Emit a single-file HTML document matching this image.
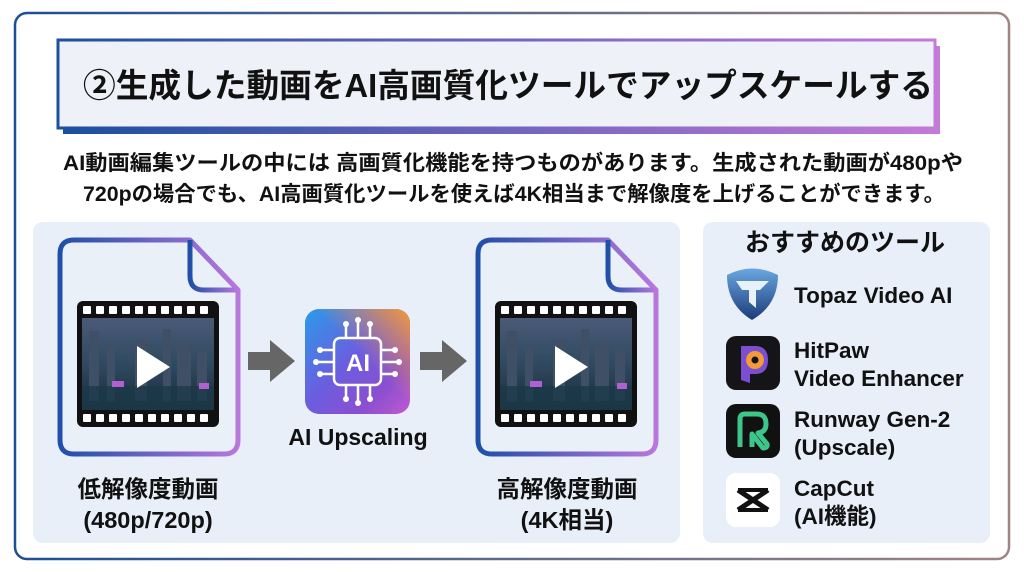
<!DOCTYPE html>
<html><head><meta charset="utf-8"><style>
html,body{margin:0;padding:0;width:1024px;height:572px;background:#fff;overflow:hidden}
svg{display:block}
text{font-family:"Liberation Sans","Noto Sans CJK JP",sans-serif;font-weight:bold;fill:#111}
</style></head><body>
<svg width="1024" height="572" viewBox="0 0 1024 572" xmlns="http://www.w3.org/2000/svg">
<defs>
<linearGradient id="ob" x1="0" x2="1"><stop offset="0" stop-color="#1d4f93"/><stop offset="1" stop-color="#a08484"/></linearGradient>
<linearGradient id="tb" x1="0" x2="1"><stop offset="0" stop-color="#1b4fa0"/><stop offset="1" stop-color="#c47ad8"/></linearGradient>
<linearGradient id="fg" x1="0" y1="0" x2="1" y2="0"><stop offset="0" stop-color="#1f4fa8"/><stop offset="1" stop-color="#b877dd"/></linearGradient>
<linearGradient id="sky" x1="0" y1="0" x2="0" y2="1"><stop offset="0" stop-color="#4a5a78"/><stop offset="0.5" stop-color="#2f4a60"/><stop offset="1" stop-color="#1b2a3a"/></linearGradient>
<linearGradient id="ai" x1="0" y1="0" x2="1" y2="1"><stop offset="0" stop-color="#2a9be8"/><stop offset="0.45" stop-color="#6a5ee0"/><stop offset="0.75" stop-color="#8a4fd0"/><stop offset="1" stop-color="#c05ad0"/></linearGradient>
<linearGradient id="aio" x1="0" y1="1" x2="1" y2="0"><stop offset="0.55" stop-color="#f39a3a" stop-opacity="0"/><stop offset="1" stop-color="#f39a3a"/></linearGradient>
<linearGradient id="tp" x1="0" y1="0" x2="0" y2="1"><stop offset="0" stop-color="#6aa7e0"/><stop offset="1" stop-color="#1b3c78"/></linearGradient>
<g id="film">
<rect x="0" y="0" width="142" height="126" rx="6" fill="#111"/>
<rect x="5" y="17" width="132" height="92" fill="url(#sky)"/>
<g fill="#3e4f66"><rect x="12" y="30" width="10" height="70"/><rect x="30" y="45" width="8" height="55"/><rect x="58" y="38" width="12" height="62"/><rect x="86" y="28" width="8" height="72"/><rect x="100" y="40" width="14" height="60"/><rect x="120" y="50" width="10" height="50"/></g>
<rect x="5" y="85" width="132" height="24" fill="#1c3a48" opacity=".8"/>
<rect x="35" y="80" width="12" height="6" fill="#b060d0"/><rect x="122" y="82" width="10" height="6" fill="#b060d0"/>
<g fill="#fff"><rect x="6" y="5" width="8" height="8" rx="1"/><rect x="19" y="5" width="8" height="8" rx="1"/><rect x="32" y="5" width="8" height="8" rx="1"/><rect x="45" y="5" width="8" height="8" rx="1"/><rect x="58" y="5" width="8" height="8" rx="1"/><rect x="71" y="5" width="8" height="8" rx="1"/><rect x="84" y="5" width="8" height="8" rx="1"/><rect x="97" y="5" width="8" height="8" rx="1"/><rect x="110" y="5" width="8" height="8" rx="1"/><rect x="123" y="5" width="8" height="8" rx="1"/>
<rect x="6" y="113" width="8" height="8" rx="1"/><rect x="19" y="113" width="8" height="8" rx="1"/><rect x="32" y="113" width="8" height="8" rx="1"/><rect x="45" y="113" width="8" height="8" rx="1"/><rect x="58" y="113" width="8" height="8" rx="1"/><rect x="71" y="113" width="8" height="8" rx="1"/><rect x="84" y="113" width="8" height="8" rx="1"/><rect x="97" y="113" width="8" height="8" rx="1"/><rect x="110" y="113" width="8" height="8" rx="1"/><rect x="123" y="113" width="8" height="8" rx="1"/></g>
<path d="M60 45 L93 66 L60 87 Z" fill="#fff"/>
</g>
<g id="file">
<path d="M14 0 H130 L178 50 V200 Q178 214 164 214 H14 Q0 214 0 200 V14 Q0 0 14 0 Z" fill="#eaf0f8" stroke="url(#fg)" stroke-width="5" stroke-linejoin="round"/>
<path d="M130 0 V36 Q130 50 144 50 H178" fill="none" stroke="url(#fg)" stroke-width="5" stroke-linejoin="round"/>
</g>
</defs>
<rect x="15" y="13" width="994" height="546" rx="12" fill="#fff" stroke="url(#ob)" stroke-width="2.5"/>
<!-- title -->
<rect x="63" y="46" width="877" height="88" fill="url(#tb)"/>
<rect x="58" y="40" width="877" height="88" fill="#eef1f7" stroke="url(#tb)" stroke-width="3"/>
<text x="83" y="97" font-size="33" textLength="850" lengthAdjust="spacingAndGlyphs">②生成した動画をAI高画質化ツールでアップスケールする</text>
<text x="63" y="170" font-size="21" textLength="900" lengthAdjust="spacingAndGlyphs">AI動画編集ツールの中には 高画質化機能を持つものがあります。生成された動画が480pや</text>
<text x="83" y="201" font-size="21" textLength="862" lengthAdjust="spacingAndGlyphs">720pの場合でも、AI高画質化ツールを使えば4K相当まで解像度を上げることができます。</text>
<!-- panels -->
<rect x="33" y="222" width="647" height="321" rx="10" fill="#e8eff8"/>
<rect x="703" y="222" width="287" height="321" rx="10" fill="#e8eff8"/>
<use href="#file" x="60" y="240"/>
<use href="#film" x="77" y="301"/>
<use href="#file" x="478" y="240"/>
<use href="#film" x="495" y="301"/>
<!-- arrows -->
<path d="M248 352 H270 V340 L295 361 L270 382 V370 H248 Z" fill="#666"/>
<path d="M420 352 H442 V340 L467 361 L442 382 V370 H420 Z" fill="#666"/>
<!-- AI icon -->
<rect x="305" y="309" width="105" height="105" rx="14" fill="url(#ai)"/>
<rect x="305" y="309" width="105" height="105" rx="14" fill="url(#aio)"/>
<g stroke="#fff" stroke-width="2.5" fill="none">
<rect x="334" y="338" width="47" height="47" rx="6"/>
<path d="M346 338 V326 M358 338 V322 M370 338 V326 M346 385 V397 M358 385 V401 M370 385 V397 M334 350 H322 M334 362 H318 M334 374 H322 M381 350 H393 M381 362 H397 M381 374 H393"/>
</g>
<g fill="#fff"><circle cx="346" cy="324" r="3"/><circle cx="358" cy="320" r="3"/><circle cx="370" cy="324" r="3"/><circle cx="346" cy="399" r="3"/><circle cx="358" cy="403" r="3"/><circle cx="370" cy="399" r="3"/><circle cx="320" cy="350" r="3"/><circle cx="316" cy="362" r="3"/><circle cx="320" cy="374" r="3"/><circle cx="395" cy="350" r="3"/><circle cx="399" cy="362" r="3"/><circle cx="395" cy="374" r="3"/></g>
<text x="358" y="371" font-size="24" text-anchor="middle" style="fill:#fff">AI</text>
<text x="358" y="445" font-size="23" text-anchor="middle">AI Upscaling</text>
<text x="148" y="497" font-size="23.5" text-anchor="middle">低解像度動画</text>
<text x="148" y="528" font-size="23.5" text-anchor="middle">(480p/720p)</text>
<text x="567" y="497" font-size="23.5" text-anchor="middle">高解像度動画</text>
<text x="567" y="528" font-size="23.5" text-anchor="middle">(4K相当)</text>
<!-- tools -->
<text x="845" y="251" font-size="25" text-anchor="middle">おすすめのツール</text>
<path d="M727 275 Q752 262 778 275 Q778 305 752 320 Q727 305 727 275 Z" fill="url(#tp)"/>
<path d="M736 281 H769 L760 290 H756 V308 L749 302 V290 H742 Z" fill="#e8f0fa"/>
<text x="794" y="303" font-size="22.5">Topaz Video AI</text>
<rect x="726" y="336" width="54" height="54" rx="10" fill="#151519"/>
<path d="M741 346 H755 Q768 346 768 360 Q768 374 755 374 H750 V383 L741 380 Z" fill="#7a4fd0"/>
<circle cx="755" cy="360" r="9" fill="#f39a3a"/>
<circle cx="755" cy="360" r="3.5" fill="#151519"/>
<text x="794" y="358" font-size="22.5">HitPaw</text>
<text x="794" y="386" font-size="22.5">Video Enhancer</text>
<rect x="726" y="404" width="54" height="54" rx="10" fill="#111"/>
<path d="M740 447 V419 Q740 414 745 414 H757 Q766 414 766 424 Q766 432 758 433 L767 444 Q768 448 763 448 L752 434 V447" fill="none" stroke="#3ec58a" stroke-width="5" stroke-linejoin="round"/>
<text x="794" y="427" font-size="22.5">Runway Gen-2</text>
<text x="794" y="455" font-size="22.5">(Upscale)</text>
<rect x="726" y="473" width="54" height="54" rx="10" fill="#fff"/>
<path d="M738 490 L768 510 M768 490 L738 510" stroke="#111" stroke-width="5"/>
<path d="M738 490 H768 M738 510 H768" stroke="#111" stroke-width="4"/>
<text x="794" y="496" font-size="22.5">CapCut</text>
<text x="794" y="524" font-size="22.5">(AI機能)</text>
</svg>
</body></html>
